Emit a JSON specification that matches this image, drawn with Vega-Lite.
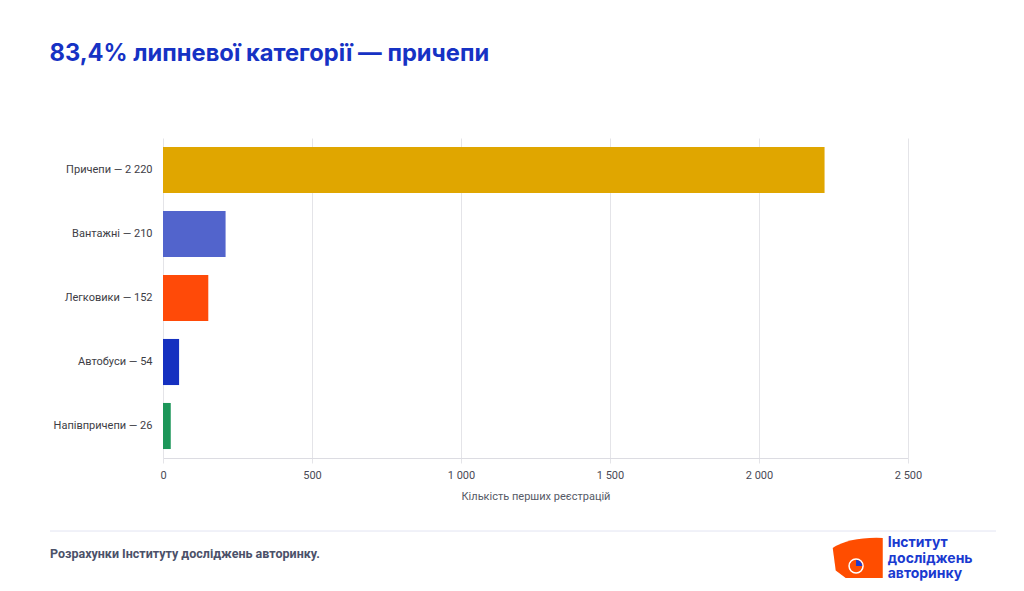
{
  "$schema": "https://vega.github.io/schema/vega-lite/v6.json",
  "background": "#ffffff",
  "padding": {"left": 49, "top": 42, "right": 20, "bottom": 8},
  "title": {
    "text": "83,4% липневої категорії — причепи",
    "anchor": "start",
    "font": "Inter",
    "fontSize": 23.7,
    "fontWeight": 700,
    "color": "#1632c4",
    "offset": 72
  },
  "config": {
    "locale": {"number": {"decimal": ",", "thousands": "\u00a0", "grouping": [3], "currency": ["", " ₴"]}},
    "view": {"stroke": null},
    "font": "Roboto"
  },
  "spacing": 29,
  "vconcat": [
    {
      "width": 745,
      "height": 320,
      "data": {
        "values": [
          {"label": "Причепи — 2 220", "category": "Причепи", "value": 2220},
          {"label": "Вантажні — 210", "category": "Вантажні", "value": 210},
          {"label": "Легковики — 152", "category": "Легковики", "value": 152},
          {"label": "Автобуси — 54", "category": "Автобуси", "value": 54},
          {"label": "Напівпричепи — 26", "category": "Напівпричепи", "value": 26}
        ]
      },
      "mark": {"type": "bar"},
      "encoding": {
        "y": {
          "field": "label",
          "type": "nominal",
          "sort": null,
          "scale": {"paddingInner": 0.28, "paddingOuter": 0.14},
          "axis": {
            "title": null,
            "ticks": false,
            "domain": false,
            "labelFont": "Roboto",
            "labelFontSize": 11,
            "labelColor": "#3d3d45",
            "labelPadding": 11,
            "minExtent": 113,
            "maxExtent": 113
          }
        },
        "x": {
          "field": "value",
          "type": "quantitative",
          "scale": {"domain": [0, 2500], "nice": false},
          "axis": {
            "values": [0, 500, 1000, 1500, 2000, 2500],
            "format": ",d",
            "labelFlush": false,
            "title": "Кількість перших реєстрацій",
            "titleFont": "Roboto",
            "titleFontWeight": "normal",
            "titleFontSize": 11,
            "titleColor": "#555a66",
            "titlePadding": 10,
            "labelFont": "Roboto",
            "labelFontSize": 11,
            "labelColor": "#4a4a55",
            "labelPadding": 6,
            "grid": true,
            "gridColor": "#e4e4e8",
            "domainColor": "#dcdce2",
            "tickColor": "#e4e4e8",
            "tickSize": 5
          }
        },
        "color": {
          "field": "category",
          "type": "nominal",
          "scale": {
            "domain": ["Причепи", "Вантажні", "Легковики", "Автобуси", "Напівпричепи"],
            "range": ["#e0a600", "#5264cc", "#ff4a08", "#1530c0", "#1c9659"]
          },
          "legend": null
        }
      }
    },
    {
      "width": 833,
      "height": 48,
      "layer": [
        {
          "data": {"values": [{"start": -0.1357, "end": 1, "level": 1}]},
          "mark": {"type": "rule", "color": "#e2e4f2", "strokeWidth": 1},
          "encoding": {
            "x": {"field": "start", "type": "quantitative", "scale": {"domain": [0, 1]}, "axis": null},
            "x2": {"field": "end"},
            "y": {"field": "level", "type": "quantitative", "scale": {"domain": [0, 1]}, "axis": null}
          }
        },
        {
          "data": {"values": [{"note": "Розрахунки Інституту досліджень авторинку.", "px": -0.1357, "py": 0.52}]},
          "mark": {"type": "text", "align": "left", "baseline": "middle", "font": "Roboto", "fontSize": 12.5, "fontWeight": "bold", "color": "#4b5169"},
          "encoding": {
            "x": {"field": "px", "type": "quantitative", "scale": {"domain": [0, 1]}, "axis": null},
            "y": {"field": "py", "type": "quantitative", "scale": {"domain": [0, 1]}, "axis": null},
            "text": {"field": "note"}
          }
        },
        {
          "data": {"values": [{"part": "flag", "px": 0.834, "py": 0.44}]},
          "mark": {"type": "point", "filled": true, "opacity": 1, "color": "#ff4d00", "size": 2500, "shape": "M-1,-0.4 Q-0.3,-0.85 1,-0.8 L1,0.8 L-0.48,0.8 L-0.88,0.5 Z"},
          "encoding": {
            "x": {"field": "px", "type": "quantitative", "scale": {"domain": [0, 1]}, "axis": null},
            "y": {"field": "py", "type": "quantitative", "scale": {"domain": [0, 1]}, "axis": null}
          }
        },
        {
          "data": {"values": [{"part": "pie", "px": 0.832, "py": 0.27}]},
          "mark": {"type": "point", "filled": true, "opacity": 1, "fill": "#ff4d00", "stroke": "#ffffff", "strokeWidth": 1.5, "size": 196, "shape": "circle"},
          "encoding": {
            "x": {"field": "px", "type": "quantitative", "scale": {"domain": [0, 1]}, "axis": null},
            "y": {"field": "py", "type": "quantitative", "scale": {"domain": [0, 1]}, "axis": null}
          }
        },
        {
          "data": {"values": [{"part": "slice", "px": 0.832, "py": 0.27}]},
          "mark": {"type": "point", "filled": true, "opacity": 1, "color": "#1a3ad0", "size": 150, "shape": "M0,0 L0,-1 A1,1 0 0,1 1,0 Z"},
          "encoding": {
            "x": {"field": "px", "type": "quantitative", "scale": {"domain": [0, 1]}, "axis": null},
            "y": {"field": "py", "type": "quantitative", "scale": {"domain": [0, 1]}, "axis": null}
          }
        },
        {
          "data": {"values": [{"brand": ["Інститут", "досліджень", "авторинку"], "px": 0.870, "py": 0.74}]},
          "mark": {"type": "text", "align": "left", "baseline": "middle", "font": "Inter", "fontSize": 14, "fontWeight": 700, "lineHeight": 15.5, "color": "#1a3ad0"},
          "encoding": {
            "x": {"field": "px", "type": "quantitative", "scale": {"domain": [0, 1]}, "axis": null},
            "y": {"field": "py", "type": "quantitative", "scale": {"domain": [0, 1]}, "axis": null},
            "text": {"field": "brand"}
          }
        }
      ]
    }
  ]
}
